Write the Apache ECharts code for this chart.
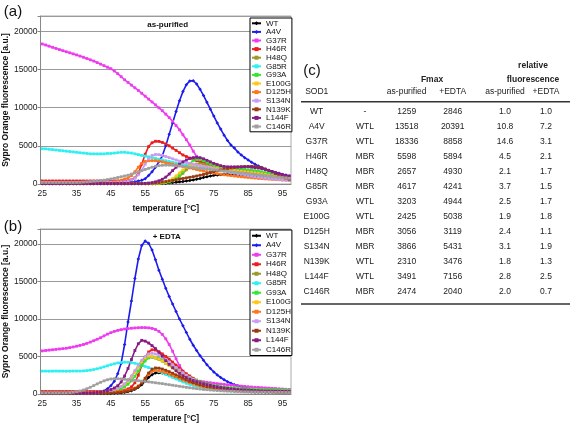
<!DOCTYPE html>
<html><head><meta charset="utf-8">
<script src="https://cdn.jsdelivr.net/npm/echarts@6/dist/echarts.min.js"></script>
<style>html,body{margin:0;padding:0;background:#fff}#c{width:572px;height:424px}</style>
</head><body><div id="c"></div>
<script>
const categories = ['25','26','27','28','29','30','31','32','33','34','35','36','37','38','39','40','41','42','43','44','45','46','47','48','49','50','51','52','53','54','55','56','57','58','59','60','61','62','63','64','65','66','67','68','69','70','71','72','73','74','75','76','77','78','79','80','81','82','83','84','85','86','87','88','89','90','91','92','93','94','95','96','97'];
const seriesNames = ['WT','A4V','G37R','H46R','H48Q','G85R','G93A','E100G','D125H','S134N','N139K','L144F','C146R'];
const seriesColors = ['#000000','#1c1cf0','#ee3bee','#ee1c1c','#9a9a2a','#2ef0f0','#33e633','#ffc61a','#ff7518','#c89cf5','#9a3a10','#861a86','#a0a0a0'];
const seriesSymbols = ['diamond','diamond','rect','rect','rect','rect','rect','rect','rect','rect','rect','rect','rect'];

// Panel (a): as-purified
const A_WT = [30,30,30,30,30,30,30,30,30,30, 30,30,30,30,30,30,30,30,30,30, 30,30,30,30,30,30,30,30,30,30, 30,30,30,40,60,80,110,150,190,230, 280,330,390,460,540,630,730,840,950,1050, 1130,1190,1230,1255,1259,1250,1230,1200,1160,1120, 1080,1040,1000,960,920,880,840,800,760,720, 680,640,600];
const A_A4V = [150,150,150,150,150,150,150,150,150,150, 150,150,150,150,150,150,150,150,150,150, 150,150,150,150,150,200,250,300,400,500, 700,1100,1600,2200,2900,3700,5000,6500,8000,9500, 10900,12100,13000,13500,13518,13100,12400,11600,10700,9800, 8900,8000,7200,6400,5700,5100,4700,4200,3800,3450, 3150,2850,2600,2350,2150,1950,1780,1620,1480,1360, 1250,1150,1050];
const A_G37R = [18336,18200,18050,17900,17750,17600,17460,17320,17180,17040, 16900,16750,16600,16430,16260,16100,15900,15700,15500,15300, 15100,14800,14450,14050,13650,13300,12950,12600,12250,11880, 11500,11120,10740,10360,9980,9600,9150,8700,8200,7650, 7100,6450,5800,5100,4300,3600,3100,2800,2600,2500, 2400,2320,2240,2160,2080,2000,1940,1880,1820,1760, 1700,1640,1580,1520,1460,1400,1330,1260,1190,1120, 1050,1000,950];
const A_H46R = [400,400,400,400,400,400,400,400,400,400, 400,400,400,400,400,400,400,400,400,400, 400,400,400,400,420,450,550,800,1400,2600, 3900,4900,5400,5598,5580,5450,5250,5000,4700,4400, 4100,3800,3600,3400,3200,3050,2900,2800,2700,2600, 2500,2400,2300,2200,2100,2000,1900,1800,1700,1600, 1500,1400,1300,1250,1150,1100,1000,950,850,800, 700,650,600];
const A_H48Q = [80,80,80,80,80,80,80,80,80,80, 80,80,80,80,80,80,80,80,80,80, 80,80,80,80,80,80,80,80,80,80, 80,80,80,80,100,130,180,260,400,650, 1000,1400,1850,2200,2450,2600,2657,2600,2500,2400, 2300,2200,2120,2050,2000,1950,1900,1850,1800,1750, 1700,1650,1600,1500,1400,1300,1200,1100,1000,900, 800,700,620];
const A_G85R = [4617,4600,4550,4500,4450,4400,4350,4300,4250,4200, 4150,4100,4050,4000,3950,3950,3950,3950,3950,4000, 4000,4050,4100,4150,4150,4100,4050,3950,3850,3750, 3650,3550,3450,3350,3250,3150,3050,2950,2850,2750, 2650,2550,2450,2350,2250,2150,2100,2050,2000,1950, 1900,1850,1750,1700,1600,1550,1500,1450,1350,1300, 1250,1200,1150,1100,1000,950,900,850,800,700, 650,600,550];
const A_G93A = [100,100,100,100,100,100,100,100,100,100, 100,100,100,100,100,100,100,100,100,100, 100,100,100,100,100,100,100,100,100,100, 100,100,100,100,120,150,200,300,450,700, 1100,1600,2200,2700,3050,3203,3180,3050,2850,2650, 2450,2300,2200,2100,2050,2000,1950,1950,1900,1900, 1850,1800,1750,1700,1600,1500,1400,1250,1100,950, 850,750,650];
const A_E100G = [80,80,80,80,80,80,80,80,80,80, 80,80,80,80,80,80,80,80,80,80, 80,80,80,80,80,80,80,80,80,80, 80,80,80,100,130,180,280,450,700,1050, 1450,1850,2150,2350,2425,2420,2380,2300,2220,2150, 2080,2020,1960,1900,1850,1800,1750,1700,1650,1600, 1550,1500,1450,1400,1320,1250,1150,1050,950,850, 780,720,660];
const A_D125H = [100,100,100,100,100,100,100,100,100,100, 100,100,100,100,100,100,100,100,150,200, 250,300,400,500,650,800,1100,1600,2200,2700, 2950,3050,3056,3050,3000,2900,2800,2700,2600,2500, 2400,2300,2200,2100,2000,1900,1800,1700,1600,1500, 1420,1350,1280,1220,1160,1100,1050,1000,950,900, 860,820,780,740,700,670,640,610,580,550, 520,500,480];
const A_S134N = [200,200,200,200,200,200,200,200,200,200, 200,200,200,200,200,200,200,200,200,200, 200,200,200,250,300,400,550,800,1200,1800, 2600,3300,3750,3866,3850,3750,3600,3450,3300,3150, 3000,2900,2800,2700,2600,2500,2400,2300,2200,2100, 2000,1900,1800,1700,1600,1500,1420,1340,1260,1180, 1100,1030,960,890,830,770,720,670,620,580, 540,510,480];
const A_N139K = [50,50,50,50,50,50,50,50,50,50, 50,50,50,50,50,50,50,50,50,50, 50,50,50,50,50,50,50,50,50,50, 50,70,100,140,190,250,320,400,480,560, 640,720,800,880,960,1050,1150,1250,1370,1500, 1620,1740,1850,1950,2030,2100,2160,2210,2250,2280, 2300,2310,2290,2230,2120,1960,1780,1580,1360,1150, 950,780,620];
const A_L144F = [50,50,50,50,50,50,50,50,50,50, 50,50,50,50,50,50,50,50,50,50, 50,50,50,50,50,50,50,50,50,50, 80,120,180,280,420,620,900,1300,1750,2200, 2600,2900,3150,3350,3450,3491,3450,3300,3100,2900, 2700,2550,2400,2300,2250,2250,2250,2250,2250,2250, 2250,2200,2150,2100,2000,1900,1800,1650,1500,1400, 1250,1150,1050];
const A_C146R = [200,200,200,200,200,200,200,200,200,200, 200,220,250,280,320,360,400,450,500,580, 660,750,850,950,1050,1150,1300,1450,1600,1750, 1900,2050,2200,2320,2400,2450,2474,2470,2450,2400, 2350,2300,2250,2200,2150,2100,2050,2000,1950,1900, 1850,1800,1750,1700,1650,1600,1550,1500,1450,1400, 1350,1300,1250,1200,1150,1100,1050,1000,950,900, 850,800,750];

// Panel (b): + EDTA
const B_WT = [80,80,80,80,80,80,80,80,80,80, 80,80,80,80,80,80,80,80,80,80, 80,100,130,170,230,320,450,640,900,1250, 1700,2200,2580,2800,2846,2800,2700,2560,2400,2220, 2040,1860,1690,1530,1380,1240,1110,1000,900,810, 730,660,600,550,500,460,420,390,360,340, 320,300,280,270,260,250,240,230,220,215, 210,205,200];
const B_A4V = [150,150,150,150,150,150,150,150,150,150, 150,150,150,150,150,160,180,250,400,700, 1100,1700,2700,4100,6600,9600,12400,15400,18000,19800, 20391,20100,19200,17900,16500,15300,14100,13000,12000,11000, 10000,9100,8200,7300,6500,5800,5100,4500,3900,3400, 2950,2550,2200,1900,1650,1430,1250,1100,960,850, 750,660,590,530,480,440,410,380,360,340, 320,310,300];
const B_G37R = [5750,5800,5850,5900,5950,6000,6050,6100,6180,6270, 6370,6480,6600,6750,6920,7100,7300,7500,7750,7980, 8180,8350,8480,8580,8660,8720,8770,8810,8840,8858, 8850,8820,8750,8600,8350,7950,7350,6600,5700,4700, 3800,3000,2500,2100,1900,1780,1700,1630,1560,1500, 1440,1380,1330,1280,1230,1180,1130,1090,1050,1010, 970,930,900,870,840,810,780,750,720,690, 660,630,610];
const B_H46R = [350,350,350,350,350,350,350,350,350,350, 350,350,350,350,350,350,350,350,350,350, 360,380,400,450,530,680,950,1500,2500,3800, 4900,5600,5894,5850,5650,5350,5000,4650,4250,3850, 3450,3050,2700,2400,2100,1850,1650,1450,1300,1170, 1060,970,890,820,760,710,660,620,580,550, 520,500,480,460,440,420,410,400,390,380, 370,360,350];
const B_H48Q = [200,200,200,200,200,200,200,200,200,200, 200,200,200,200,200,200,220,250,300,370, 460,580,750,980,1300,1750,2300,2950,3650,4300, 4750,4930,4900,4780,4600,4370,4100,3800,3500,3200, 2900,2600,2320,2070,1850,1650,1470,1310,1170,1050, 950,860,780,720,660,610,570,530,500,470, 450,430,410,400,390,380,370,360,350,340, 330,320,310];
const B_G85R = [3050,3050,3040,3050,3060,3050,3050,3040,3050,3060, 3060,3060,3080,3120,3180,3260,3360,3480,3620,3760, 3900,4030,4140,4210,4241,4230,4180,4090,3970,3830, 3680,3520,3350,3170,2990,2800,2600,2400,2200,2000, 1800,1600,1430,1280,1150,1040,950,870,800,740, 690,650,610,580,550,530,510,490,470,460, 450,440,430,420,410,400,395,390,385,380, 375,370,365];
const B_G93A = [200,200,200,200,200,200,200,200,200,200, 200,200,200,200,200,200,200,200,230,270, 330,420,550,730,980,1300,1750,2350,3050,3800, 4400,4800,4944,4900,4750,4550,4300,4000,3700,3380, 3070,2770,2490,2230,2000,1800,1620,1470,1340,1230, 1130,1050,980,920,870,830,790,760,730,700, 680,660,640,620,600,590,580,570,560,550, 540,530,520];
const B_E100G = [200,200,200,200,200,200,200,200,200,200, 200,200,200,200,200,200,230,270,320,390, 480,600,780,1000,1300,1700,2250,2900,3600,4300, 4800,5038,5000,4850,4650,4400,4100,3800,3480,3150, 2830,2530,2250,2000,1780,1580,1400,1250,1120,1010, 910,830,760,700,650,600,560,530,500,470, 450,430,410,390,380,370,360,350,340,330, 320,310,300];
const B_D125H = [250,250,250,250,250,250,250,250,250,250, 250,250,250,250,250,250,250,250,250,250, 260,280,310,350,410,500,620,800,1080,1500, 2050,2600,3000,3119,3080,2980,2840,2670,2480,2280, 2080,1880,1690,1510,1350,1200,1070,960,860,780, 710,650,600,550,510,480,450,420,400,380, 360,350,340,330,320,310,300,290,280,275, 270,265,260];
const B_S134N = [150,150,150,150,150,150,150,150,150,150, 150,150,150,150,150,150,170,200,250,320, 420,560,750,1000,1350,1800,2400,3100,3800,4500, 5000,5350,5431,5350,5150,4900,4600,4250,3900,3550, 3200,2850,2500,2200,1950,1700,1500,1330,1180,1050, 950,860,780,710,650,600,560,520,490,460, 440,420,400,385,370,360,350,340,330,320, 310,300,290];
const B_N139K = [100,100,100,100,100,100,100,100,100,100, 100,100,100,100,100,100,100,100,100,100, 120,150,190,240,310,400,530,720,1000,1450, 2100,2800,3300,3476,3450,3330,3170,2980,2770,2550, 2330,2110,1900,1700,1520,1360,1220,1100,990,900, 820,750,690,640,590,550,510,480,450,430, 410,390,370,360,350,340,330,320,310,300, 290,280,270];
const B_L144F = [150,150,150,150,150,150,150,150,150,150, 150,150,150,150,160,180,220,280,360,460, 600,800,1100,1600,2400,3400,4600,5800,6700,7156, 7050,6800,6450,6050,5550,5050,4450,3950,3500,3100, 2750,2450,2200,1980,1800,1650,1500,1370,1250,1140, 1040,950,870,800,740,690,640,600,560,530, 500,480,460,440,420,400,390,380,370,360, 350,340,330];
const B_C146R = [150,150,150,150,150,150,150,150,180,230, 300,400,530,700,900,1120,1350,1560,1750,1900, 2000,2040,2040,2010,1970,1920,1870,1820,1770,1720, 1670,1620,1560,1500,1440,1380,1310,1240,1170,1100, 1030,960,890,830,770,710,660,610,570,530, 490,460,430,400,380,360,340,320,300,290, 280,270,260,250,240,235,230,225,220,215, 210,205,200];

const yTicks = [0, 5000, 10000, 15000, 20000];

// Table (c)
const tableSod1 = ['WT','A4V','G37R','H46R','H48Q','G85R','G93A','E100G','D125H','S134N','N139K','L144F','C146R'];
const tableGroup = ['-','WTL','WTL','MBR','MBR','MBR','WTL','WTL','MBR','MBR','WTL','WTL','MBR'];
const fmaxAsPurified = [1259,13518,18336,5598,2657,4617,3203,2425,3056,3866,2310,3491,2474];
const fmaxEdta = [2846,20391,8858,5894,4930,4241,4944,5038,3119,5431,3476,7156,2040];
const relAsPurified = ['1.0','10.8','14.6','4.5','2.1','3.7','2.5','1.9','2.4','3.1','1.8','2.8','2.0'];
const relEdta = ['1.0','7.2','3.1','2.1','1.7','1.5','1.7','1.8','1.1','1.9','1.3','2.5','0.7'];

const panelA = [A_WT,A_A4V,A_G37R,A_H46R,A_H48Q,A_G85R,A_G93A,A_E100G,A_D125H,A_S134N,A_N139K,A_L144F,A_C146R];
const panelB = [B_WT,B_A4V,B_G37R,B_H46R,B_H48Q,B_G85R,B_G93A,B_E100G,B_D125H,B_S134N,B_N139K,B_L144F,B_C146R];

const FONT = 'Liberation Sans, Arial, sans-serif';
const chart = echarts.init(document.getElementById('c'), null, {renderer: 'canvas'});

function mkX(gi) {
  return {
    type: 'category', gridIndex: gi, data: categories, boundaryGap: true,
    axisLine: {show: true, lineStyle: {color: '#888', width: 1}},
    axisTick: {show: false},
    axisLabel: {interval: 9, fontSize: 8.5, color: '#222', fontFamily: FONT, margin: 5},
    splitLine: {show: false},
    name: 'temperature [°C]', nameLocation: 'middle', nameGap: 20,
    nameTextStyle: {fontSize: 8.5, fontWeight: 'bold', color: '#111', fontFamily: FONT}
  };
}
function mkY(gi) {
  return {
    type: 'value', gridIndex: gi, min: 0, max: 22000, interval: 5000,
    axisLine: {show: true, lineStyle: {color: '#888', width: 1}},
    axisTick: {show: true, length: 3, lineStyle: {color: '#888'}},
    axisLabel: {fontSize: 8.5, color: '#222', fontFamily: FONT, margin: 3,
      formatter: v => yTicks.indexOf(v) >= 0 ? String(v) : ''},
    splitLine: {show: true, lineStyle: {color: '#9a9a9a', width: 1.2}},
    name: 'Sypro Orange fluorescence [a.u.]', nameLocation: 'middle', nameGap: 27, nameRotate: 90,
    nameTextStyle: {fontSize: 8.5, fontWeight: 'bold', color: '#111', fontFamily: FONT}
  };
}

const series = [];
[panelA, panelB].forEach((panel, gi) => {
  panel.forEach((vals, i) => {
    series.push({
      type: 'line', name: seriesNames[i], xAxisIndex: gi, yAxisIndex: gi,
      data: vals, symbol: seriesSymbols[i], symbolSize: seriesSymbols[i] === 'diamond' ? 3.5 : 2.8,
      showSymbol: true, showAllSymbol: true,
      lineStyle: {width: 1.6, color: seriesColors[i]},
      itemStyle: {color: seriesColors[i]},
      emphasis: {disabled: true}, animation: false
    });
  });
});

function mkLegend(top, lh) {
  return {
    orient: 'vertical', left: 250, top: top, data: seriesNames,
    backgroundColor: '#fff', borderColor: '#000', borderWidth: 1, borderRadius: 0,
    padding: [1, 1, 1, 1], itemGap: 0, itemWidth: 9, itemHeight: 5,
    textStyle: {fontSize: 8, color: '#111', fontFamily: FONT, lineHeight: lh},
    selectedMode: false
  };
}

// Table graphic elements
const colX = [316.7, 365, 406.7, 452.7, 505, 546];
const graphics = [];
function txt(x, y, t, opt) {
  graphics.push({type: 'text', x: x, y: y, silent: true, style: Object.assign({
    text: t, fill: '#222', font: '8.5px ' + FONT, textAlign: 'center', textVerticalAlign: 'middle'}, opt || {})});
}
txt(13, 12, '(a)', {font: '15px ' + FONT, fill: '#111'});
txt(13, 227, '(b)', {font: '15px ' + FONT, fill: '#111'});
txt(312, 71, '(c)', {font: '15px ' + FONT, fill: '#111'});
txt(167.7, 25, 'as-purified', {font: 'bold 8px ' + FONT, fill: '#111'});
txt(166.7, 237, '+ EDTA', {font: 'bold 8px ' + FONT, fill: '#111'});
txt(432, 79.5, 'Fmax', {font: 'bold 8.5px ' + FONT});
txt(533, 65.5, 'relative', {font: 'bold 8.5px ' + FONT});
txt(533, 79.5, 'fluorescence', {font: 'bold 8.5px ' + FONT});
txt(316.7, 92, 'SOD1');
txt(colX[2], 92, 'as-purified');
txt(colX[3], 92, '+EDTA');
txt(colX[4], 92, 'as-purified');
txt(colX[5], 92, '+EDTA');
graphics.push({type: 'line', silent: true, shape: {x1: 301, y1: 101.7, x2: 570, y2: 101.7}, style: {stroke: '#333', lineWidth: 1.5}});
tableSod1.forEach((s, i) => {
  const y = 112 + i * 15;
  txt(colX[0], y, s);
  txt(colX[1], y, tableGroup[i]);
  txt(colX[2], y, String(fmaxAsPurified[i]));
  txt(colX[3], y, String(fmaxEdta[i]));
  txt(colX[4], y, relAsPurified[i]);
  txt(colX[5], y, relEdta[i]);
});
graphics.push({type: 'line', silent: true, shape: {x1: 301, y1: 304, x2: 570, y2: 304}, style: {stroke: '#333', lineWidth: 1.5}});

chart.setOption({
  animation: false,
  backgroundColor: '#fff',
  grid: [
    {left: 39, top: 16, width: 252, height: 168, show: true, borderColor: '#aaa', borderWidth: 1, backgroundColor: '#fff'},
    {left: 39, top: 229, width: 252, height: 168, show: true, borderColor: '#aaa', borderWidth: 1, backgroundColor: '#fff'}
  ],
  xAxis: [mkX(0), mkX(1)],
  yAxis: [mkY(0), mkY(1)],
  legend: [mkLegend(18, 8.6), mkLegend(230, 9.5)],
  series: series,
  graphic: graphics
});
</script>
</body></html>
